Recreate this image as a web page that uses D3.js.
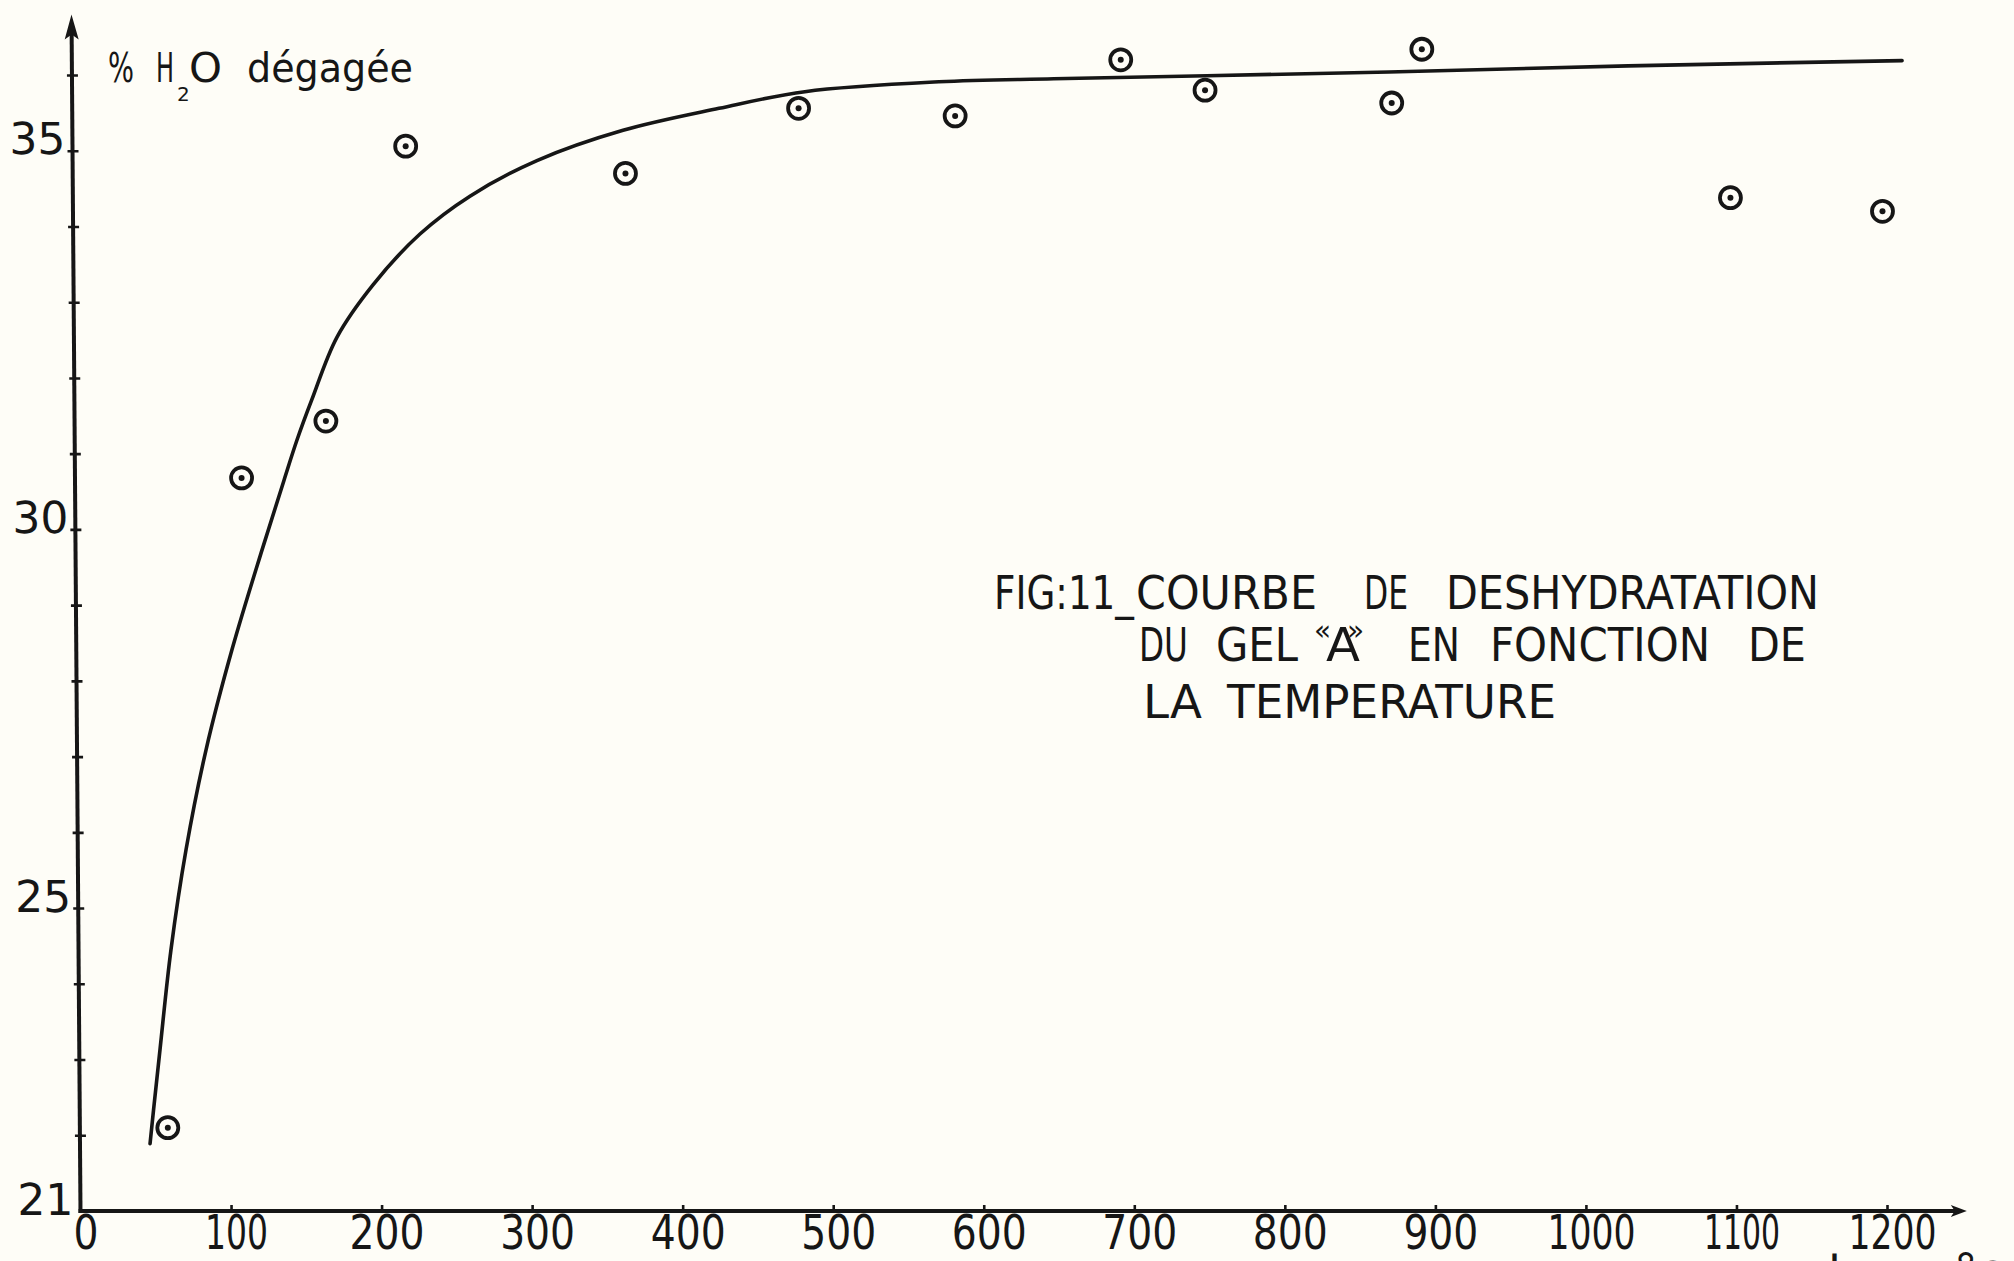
<!DOCTYPE html>
<html>
<head>
<meta charset="utf-8">
<script src="https://cdn.jsdelivr.net/npm/d3@7"></script>
<style>
  html, body { margin: 0; padding: 0; background: #fefdf7; }
  svg { display: block; }
  text { font-family: "DejaVu Sans", sans-serif; fill: #161616; }
</style>
</head>
<body>
<svg id="chart" width="2014" height="1261"></svg>
<script>
// Temperature axis (°C)
const tempTicks = [0, 100, 200, 300, 400, 500, 600, 700, 800, 900, 1000, 1100, 1200];
// Water axis (% H2O released)
const waterTicks = [21, 22, 23, 24, 25, 26, 27, 28, 29, 30, 31, 32, 33, 34, 35, 36];
const waterLabels = [21, 25, 30, 35];

// Measured points
const measuredTemp  = [58, 107, 163, 216, 362, 477, 581, 691, 747, 871, 891, 1096, 1197];
const measuredWater = [22.10, 30.68, 31.43, 35.06, 34.70, 35.56, 35.46, 36.20, 35.80, 35.63, 36.34, 34.38, 34.20];

// Hand-fitted dehydration curve
const curveTemp  = [46.2, 48.5, 52.8, 60.1, 70.1, 83.4, 100.6, 120.6, 135.2, 143.8, 153.6, 170.4, 194.3, 225.5, 258.7, 303.2, 360.4, 424.1, 481.2, 570.2, 646.6, 748.3, 869.2, 1028, 1210];
const curveWater = [21.89, 22.33, 23.13, 24.45, 25.77, 27.09, 28.41, 29.73, 30.65, 31.18, 31.71, 32.54, 33.23, 33.90, 34.40, 34.87, 35.27, 35.56, 35.78, 35.91, 35.95, 35.99, 36.04, 36.12, 36.19];

// Where the axis arrows end
const tempAxisEnd = 1253;
const waterAxisEnd = 36.8;

const ink = "#161616";
const paper = "#fefdf7";
const svg = d3.select("#chart");

const x = d3.scaleLinear().domain([0, 1200]).range([80.5, 1887]);
const y = d3.scaleLinear().domain([21, 36]).range([1211, 75]);

// ---------- vertical axis (drawn with a slight lean) ----------
const lean = 9 / 1196;
const yg = svg.append("g")
  .attr("transform", `translate(${x(0) - lean * y(21)},0) skewX(${Math.atan(lean) * 180 / Math.PI})`);

yg.call(d3.axisLeft(y)
  .tickValues(waterTicks)
  .tickSize(5)
  .tickFormat(d => waterLabels.includes(d) ? String(d) : ""));
yg.attr("font-family", null).attr("font-size", null);
yg.select(".domain").remove();
yg.selectAll(".tick line")
  .attr("x1", -5).attr("x2", 6)
  .attr("stroke", ink).attr("stroke-width", 2.6)
  .filter(d => d === 21).remove();
yg.selectAll(".tick text")
  .attr("x", -7).attr("y", 3).attr("dy", 0)
  .attr("font-size", 44).attr("fill", ink);

yg.append("line")
  .attr("x1", 0).attr("x2", 0)
  .attr("y1", y(21) + 2).attr("y2", y(waterAxisEnd) + 18)
  .attr("stroke", ink).attr("stroke-width", 4);
yg.append("path")
  .attr("d", `M0,${y(waterAxisEnd)} L-7,${y(waterAxisEnd) + 25} L0,${y(waterAxisEnd) + 20} L7,${y(waterAxisEnd) + 25} Z`)
  .attr("fill", ink);

// ---------- horizontal axis ----------
const xg = svg.append("g").attr("transform", `translate(0,${y(21)})`);
xg.call(d3.axisBottom(x)
  .tickValues(tempTicks)
  .tickSizeInner(-6)
  .tickSizeOuter(0)
  .tickPadding(0)
  .tickFormat(d => String(d)));
xg.attr("font-family", null).attr("font-size", null);
xg.select(".domain").remove();
xg.selectAll(".tick line")
  .attr("stroke", ink).attr("stroke-width", 2.6)
  .filter(d => d === 0).remove();
xg.selectAll(".tick text")
  .attr("x", 5).attr("y", 38).attr("dy", 0)
  .attr("font-size", 48).attr("fill", ink)
  .attr("textLength", d => String(d).split("").reduce((w, c) => w + (c === "1" ? 13 : 25), 0))
  .attr("lengthAdjust", "spacingAndGlyphs");

xg.append("line")
  .attr("x1", x(0) - 2).attr("x2", x(tempAxisEnd) - 10)
  .attr("y1", 0).attr("y2", 0)
  .attr("stroke", ink).attr("stroke-width", 4);
xg.append("path")
  .attr("d", `M${x(tempAxisEnd)},0 L${x(tempAxisEnd) - 16},-6 L${x(tempAxisEnd) - 12},0 L${x(tempAxisEnd) - 16},6 Z`)
  .attr("fill", ink);

// unit, cut by the bottom edge
svg.append("text").attr("x", 1828).attr("y", 1286).attr("font-size", 47).text("t");
svg.append("text").attr("x", 1954).attr("y", 1286).attr("font-size", 47).text("°c");

// ---------- axis title ----------
const title = svg.append("text").attr("y", 82).attr("font-size", 41);
title.append("tspan").attr("x", 108).attr("textLength", 26).attr("lengthAdjust", "spacingAndGlyphs").text("%");
title.append("tspan").attr("x", 156).attr("textLength", 18).attr("lengthAdjust", "spacingAndGlyphs").text("H");
title.append("tspan").attr("x", 189).attr("textLength", 33).attr("lengthAdjust", "spacingAndGlyphs").text("O");
title.append("tspan").attr("x", 247).attr("textLength", 166).attr("lengthAdjust", "spacingAndGlyphs").text("dégagée");
svg.append("text").attr("x", 177).attr("y", 101).attr("font-size", 20).text("2");

// ---------- curve ----------
const curvePts = curveTemp.map((t, i) => [t, curveWater[i]]);
svg.append("path")
  .datum(curvePts)
  .attr("d", d3.line().x(d => x(d[0])).y(d => y(d[1])).curve(d3.curveCatmullRom.alpha(0.5)))
  .attr("fill", "none")
  .attr("stroke", ink)
  .attr("stroke-width", 3.6)
  .attr("stroke-linecap", "round");

// ---------- measured points ----------
const pts = measuredTemp.map((t, i) => ({ t, w: measuredWater[i] }));
const mk = svg.append("g").selectAll("g").data(pts).join("g")
  .attr("transform", d => `translate(${x(d.t)},${y(d.w)})`);
mk.append("circle").attr("r", 10.5).attr("fill", paper).attr("stroke", ink).attr("stroke-width", 3.8);
mk.append("circle").attr("r", 3).attr("fill", ink);

// ---------- caption ----------
const caption = svg.append("g").attr("font-size", 47);
const words = [
  { t: "FIG:11_", x0: 994, x1: 1134, b: 609 },
  { t: "COURBE", x0: 1136, x1: 1317, b: 609 },
  { t: "DE", x0: 1364, x1: 1408, b: 609 },
  { t: "DESHYDRATATION", x0: 1446, x1: 1819, b: 609 },
  { t: "DU", x0: 1139, x1: 1188, b: 661 },
  { t: "GEL", x0: 1216, x1: 1298, b: 661 },
  { t: "A", x0: 1326, x1: 1360, b: 661 },
  { t: "EN", x0: 1408, x1: 1460, b: 661 },
  { t: "FONCTION", x0: 1490, x1: 1710, b: 661 },
  { t: "DE", x0: 1748, x1: 1806, b: 661 },
  { t: "LA", x0: 1143, x1: 1202, b: 718 },
  { t: "TEMPERATURE", x0: 1227, x1: 1556, b: 718 }
];
caption.selectAll("text.w").data(words).join("text")
  .attr("class", "w")
  .attr("x", d => d.x0).attr("y", d => d.b)
  .attr("textLength", d => d.x1 - d.x0)
  .attr("lengthAdjust", "spacingAndGlyphs")
  .text(d => d.t);
caption.append("text").attr("x", 1314).attr("y", 640).attr("font-size", 28).text("«");
caption.append("text").attr("x", 1347).attr("y", 640).attr("font-size", 28).text("»");
</script>
</body>
</html>
